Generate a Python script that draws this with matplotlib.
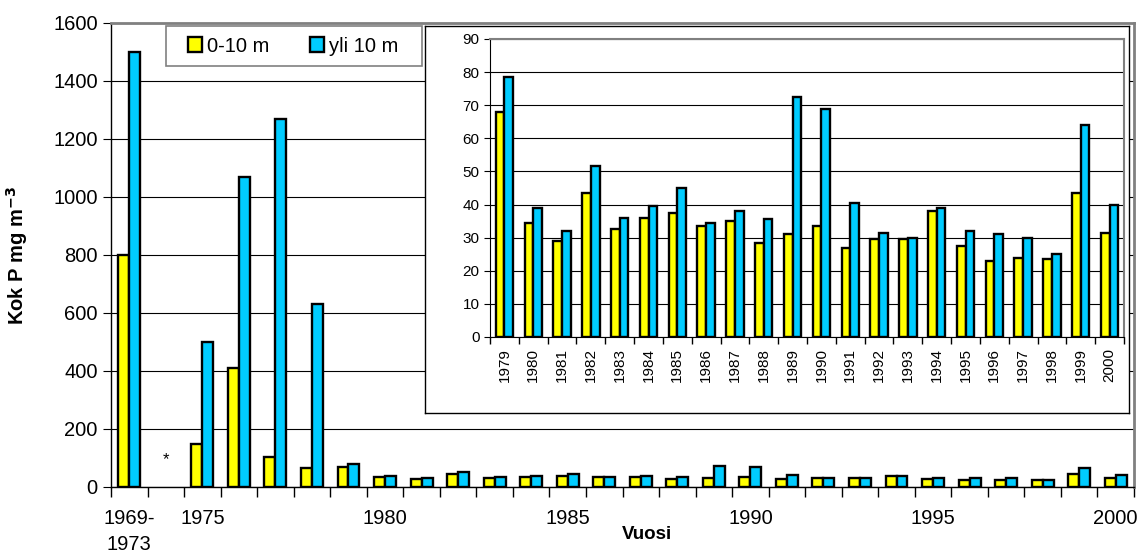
import matplotlib
matplotlib.use("Agg")
import matplotlib.pyplot as plt
from matplotlib.patches import Rectangle
import numpy as np

plt.rcParams['font.family'] = ['Liberation Sans', 'DejaVu Sans']

# main chart: 1969-1973 mean, 1974 missing (*), then yearly values
main_labels = ['1969-1973', '1974'] + [str(y) for y in range(1975, 2001)]
early_0_10 = [800, np.nan, 150, 410, 105, 65]
early_yli10 = [1500, np.nan, 500, 1070, 1270, 630]

# inset 1979-2000
years = [str(y) for y in range(1979, 2001)]
p_0_10 = [68, 34.5, 29, 43.5, 32.5, 36, 37.5, 33.5, 35, 28.5, 31,
          33.5, 27, 29.5, 29.5, 38, 27.5, 23, 24, 23.5, 43.5, 31.5]
p_yli10 = [78.5, 39, 32, 51.5, 36, 39.5, 45, 34.5, 38, 35.5, 72.5,
           69, 40.5, 31.5, 30, 39, 32, 31, 30, 25, 64, 40]

main_0_10 = early_0_10 + p_0_10
main_yli10 = early_yli10 + p_yli10

tick_pos = [0, 2, 7, 12, 17, 22, 27]
tick_txt = ['1969-\n1973', '1975', '1980', '1985', '1990', '1995', '2000']

yellow = '#FFFF00'
blue = '#00CCFF'
grey = '#808080'
W, H = 1138, 557

fig = plt.figure(figsize=(W / 100, H / 100), dpi=100)

# ---- main axes
ax = fig.add_axes([111 / W, 1 - 487 / H, 1023 / W, 464 / H])
x = np.arange(len(main_labels))
bw = 0.3
ax.bar(x - bw / 2, main_0_10, bw, color=yellow, edgecolor='black', linewidth=1.7,
       label='0-10 m', zorder=3)
ax.bar(x + bw / 2, main_yli10, bw, color=blue, edgecolor='black', linewidth=1.7,
       label='yli 10 m', zorder=3)
ax.text(1, 95, '*', ha='center', va='center', fontsize=12)

ax.set_xlim(-0.5, len(main_labels) - 0.5)
ax.set_ylim(0, 1600)
ax.set_yticks(np.arange(0, 1601, 200))
ax.yaxis.grid(True, color='black', linewidth=0.8, zorder=0)
ax.set_xticks(tick_pos)
ax.set_xticklabels(tick_txt, fontsize=14.5, linespacing=1.45)
ax.set_xticks(np.arange(len(main_labels) + 1) - 0.5, minor=True)
ax.tick_params(axis='x', which='major', length=0, pad=16)
ax.tick_params(axis='x', which='minor', length=7, width=1, direction='out')
ax.tick_params(axis='y', labelsize=14.5, length=6, direction='out')
for s in ['top', 'right']:
    ax.spines[s].set_color(grey)
    ax.spines[s].set_linewidth(2)
ax.spines['left'].set_linewidth(1)
ax.spines['bottom'].set_linewidth(1)

ax.set_ylabel('Kok P mg m$^{\\mathbf{-3}}$', fontsize=14.5, fontweight='bold')
ax.yaxis.set_label_coords(-0.079, 0.5)
ax.set_xlabel('Vuosi', fontsize=13.5, fontweight='bold')
ax.xaxis.set_label_coords(0.524, -0.085)

# legend frame drawn separately, legend entries placed inside it
fig.patches.append(Rectangle((166 / W, 1 - 66 / H), 256 / W, 40 / H,
                             transform=fig.transFigure, facecolor='white',
                             edgecolor=grey, linewidth=1.2, zorder=4))
handles, labels = ax.get_legend_handles_labels()
leg = fig.legend(handles, labels, loc='center left',
                 bbox_to_anchor=(188 / W, 1 - 46 / H), borderaxespad=0,
                 borderpad=0, ncol=2, fontsize=14.5, frameon=False,
                 handlelength=0.7, handleheight=0.7, handletextpad=0.25,
                 columnspacing=2.0)
leg.set_zorder(5)

# ---- inset frame
frame = fig.add_axes([425 / W, 1 - 413 / H, 704 / W, 387 / H])
frame.set_xticks([])
frame.set_yticks([])
for s in frame.spines.values():
    s.set_color('black')
    s.set_linewidth(1)
frame.set_zorder(5)

# ---- inset
ins = fig.add_axes([490 / W, 1 - 337 / H, 634 / W, 298 / H])
ins.set_zorder(6)
xi = np.arange(len(years))
ins.bar(xi - bw / 2, p_0_10, bw, color=yellow, edgecolor='black', linewidth=1.7, zorder=3)
ins.bar(xi + bw / 2, p_yli10, bw, color=blue, edgecolor='black', linewidth=1.7, zorder=3)
ins.set_xlim(-0.5, len(years) - 0.5)
ins.set_ylim(0, 90)
ins.set_yticks(np.arange(0, 91, 10))
ins.yaxis.grid(True, color='black', linewidth=0.8, zorder=0)
ins.set_xticks(xi)
ins.set_xticklabels(years, rotation=90, fontsize=11)
ins.set_xticks(np.arange(len(years) + 1) - 0.5, minor=True)
ins.tick_params(axis='x', which='major', length=0, pad=8)
ins.tick_params(axis='x', which='minor', length=5, width=1, direction='out')
ins.tick_params(axis='y', labelsize=11, length=4, direction='out')
for s in ['top', 'right']:
    ins.spines[s].set_color(grey)
    ins.spines[s].set_linewidth(1.5)

fig.savefig('out.png', dpi=100)
